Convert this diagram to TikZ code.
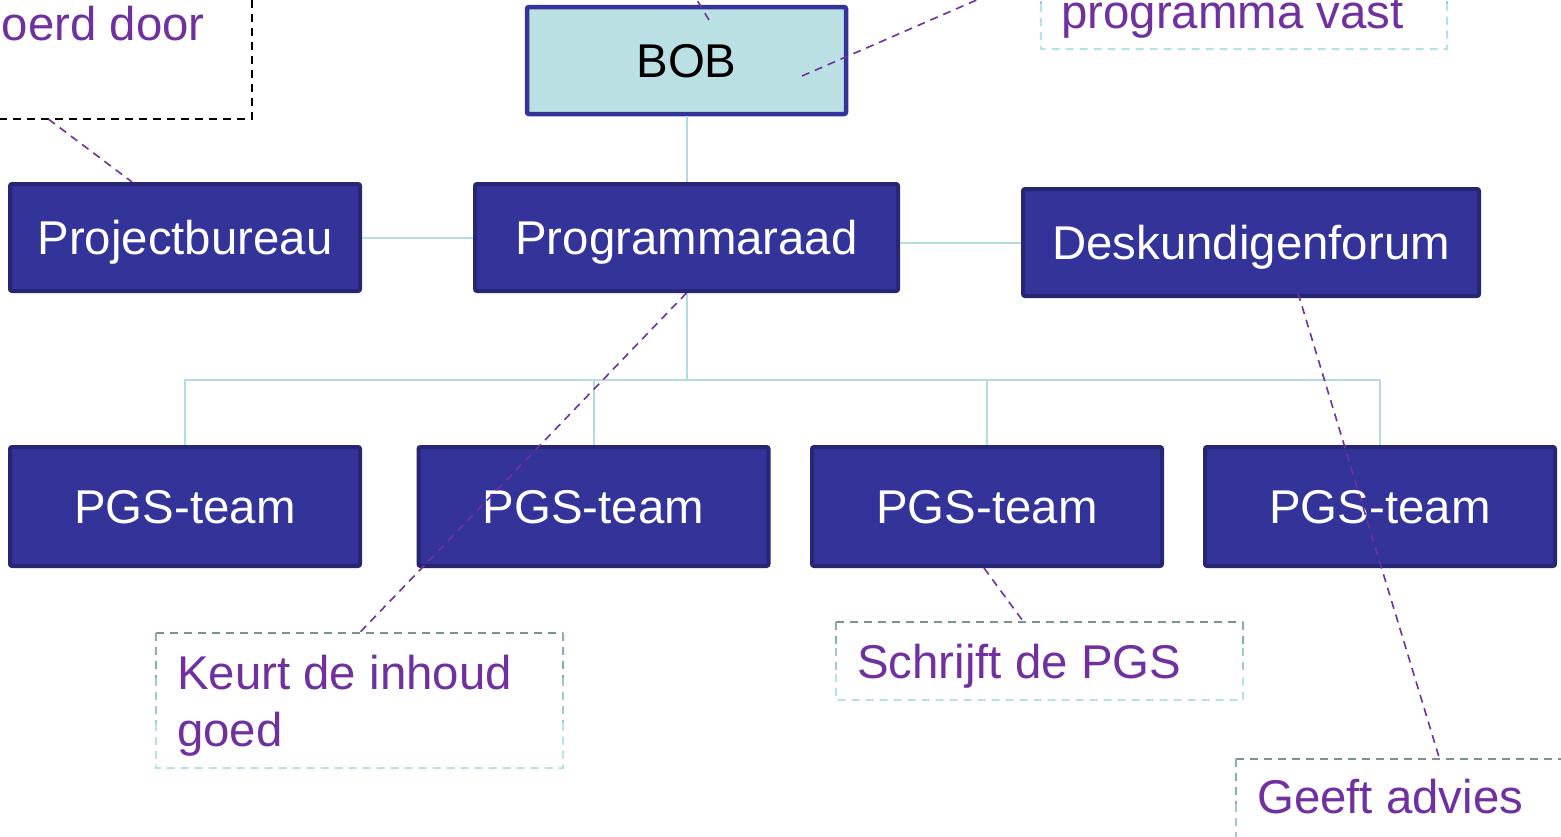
\documentclass[tikz,border=0pt]{standalone}
\usepackage{fontspec}
\setmainfont{Liberation Sans}
\usetikzlibrary{calc}
\definecolor{boxfill}{HTML}{333399}
\definecolor{boxline}{HTML}{262673}
\definecolor{bobfill}{HTML}{BBE0E3}
\definecolor{conncol}{HTML}{B2DCE0}
\definecolor{purp}{HTML}{7030A0}
\definecolor{cgA}{HTML}{7A9494}
\definecolor{cgB}{HTML}{8CAEB0}
\definecolor{cgC}{HTML}{A2C9CD}
\definecolor{cgD}{HTML}{B6E2E6}
\newcommand\diafont{\fontsize{47.4}{57}\selectfont}
\newcommand\calloutframe[1]{%
  \draw[cdash,draw=cgA] (#1.north west) -- (#1.north east);
  \draw[cdash,draw=cgB] (#1.north west) -- ($(#1.north west)!0.333!(#1.south west)$);
  \draw[cdash,draw=cgB] (#1.north east) -- ($(#1.north east)!0.333!(#1.south east)$);
  \draw[cdash,draw=cgC] ($(#1.north west)!0.333!(#1.south west)$) -- ($(#1.north west)!0.667!(#1.south west)$);
  \draw[cdash,draw=cgC] ($(#1.north east)!0.333!(#1.south east)$) -- ($(#1.north east)!0.667!(#1.south east)$);
  \draw[cdash,draw=cgD] ($(#1.north west)!0.667!(#1.south west)$) -- (#1.south west) -- (#1.south east) -- ($(#1.north east)!0.667!(#1.south east)$);
}
\tikzset{
  orgbox/.style={draw=boxline, fill=boxfill, line width=4pt, rounded corners=2pt, text=white, font=\diafont, inner sep=0pt, text height=34pt, text depth=1pt, minimum height=107pt},
  bobbox/.style={draw=boxfill, fill=bobfill, line width=4.5pt, rounded corners=2pt, text=black, font=\diafont, inner sep=0pt, text height=34pt, text depth=-3pt, minimum height=107pt},
  cbox/.style={inner sep=0pt},
  cdash/.style={line width=2pt, dash pattern=on 8pt off 6pt},
  ctext/.style={inner sep=0pt, text=purp, font=\diafont},
  conn/.style={draw=conncol, line width=2pt},
  lead/.style={draw=purp, line width=1.6pt, dash pattern=on 8pt off 6pt},
}
\begin{document}
\begin{tikzpicture}[x=1pt,y=-1pt]
\useasboundingbox (0,0) rectangle (1561,836);
\clip (0,0) rectangle (1561,836);
\fill[white] (0,0) rectangle (1561,836);

% main boxes
\node[bobbox, minimum width=319pt] (bob) at (686.5,60.5) {BOB};
\node[orgbox, minimum width=350pt] (pb) at (185,237.5) {Projectbureau};
\node[orgbox, minimum width=423pt] (prog) at (686.5,237.5) {Programmaraad};
\node[orgbox, minimum width=456pt] (desk) at (1251,242.5) {Deskundigenforum};
\node[orgbox, minimum width=350pt, minimum height=119pt] (pgs1) at (185,506.5) {PGS-team};
\node[orgbox, minimum width=350pt, minimum height=119pt] (pgs2) at (593.5,506.5) {PGS-team};
\node[orgbox, minimum width=350pt, minimum height=119pt] (pgs3) at (987,506.5) {PGS-team};
\node[orgbox, minimum width=350pt, minimum height=119pt] (pgs4) at (1380,506.5) {PGS-team};

% connectors
\coordinate (bus) at (686.5,380);
\draw[conn] (bob.south) -- (prog.north);
\draw[conn] (pb.east) -- (prog.west);
\draw[conn] (desk.west -| prog.east) -- (desk.west);
\draw[conn] (prog.south) -- (bus);
\foreach \i in {1,...,4} \draw[conn] (bus) -| (pgs\i.north);

% callout boxes
\node[cbox, minimum width=407pt, minimum height=139pt] (tlbox) at (48.5,49.5) {};
\draw[line width=2pt, dash pattern=on 8pt off 6pt] (tlbox.north west) rectangle (tlbox.south east);
\node[cbox, minimum width=406pt, minimum height=135pt] (pvbox) at (1244,-18.5) {};
\calloutframe{pvbox}
\node[cbox, minimum width=407pt, minimum height=135pt] (keurtbox) at (359.5,700.5) {};
\calloutframe{keurtbox}
\node[cbox, minimum width=407pt, minimum height=78pt] (schrbox) at (1039.5,661) {};
\calloutframe{schrbox}
\node[cbox, minimum width=407pt, minimum height=135pt] (geeftbox) at (1439.5,826.5) {};
\calloutframe{geeftbox}

% callout texts
\node[ctext, anchor=base east] (tltext) at (205,40) {oerd door};
\node[ctext, anchor=base west] (pvtext) at (1061,28) {programma vast};
\node[ctext, anchor=base west] (keurt1) at (177,689) {Keurt de inhoud};
\node[ctext, anchor=base west] (keurt2) at (177,746) {goed};
\node[ctext, anchor=base west] (schr) at (857,678) {Schrijft de PGS};
\node[ctext, anchor=base west] (geeft) at (1257,813) {Geeft advies};

% leader lines
\coordinate (bobin1) at (709,20);
\coordinate (bobout1) at (691,-10);
\coordinate (bobin2) at (802,76);
\coordinate (bobout2) at (1041,-28);
\draw[lead] (tlbox.south) -- ($(pb.north)+(-53,0)$);
\draw[lead] (bobin1) -- (bobout1);
\draw[lead] (bobin2) -- (bobout2);
\draw[lead] (prog.south) -- (keurtbox.north);
\draw[lead] ($(pgs3.south)+(-3,0)$) -- ($(schrbox.north)+(-16,0)$);
\draw[lead] ($(desk.south)+(47,-5)$) -- (geeftbox.north);
\end{tikzpicture}
\end{document}
